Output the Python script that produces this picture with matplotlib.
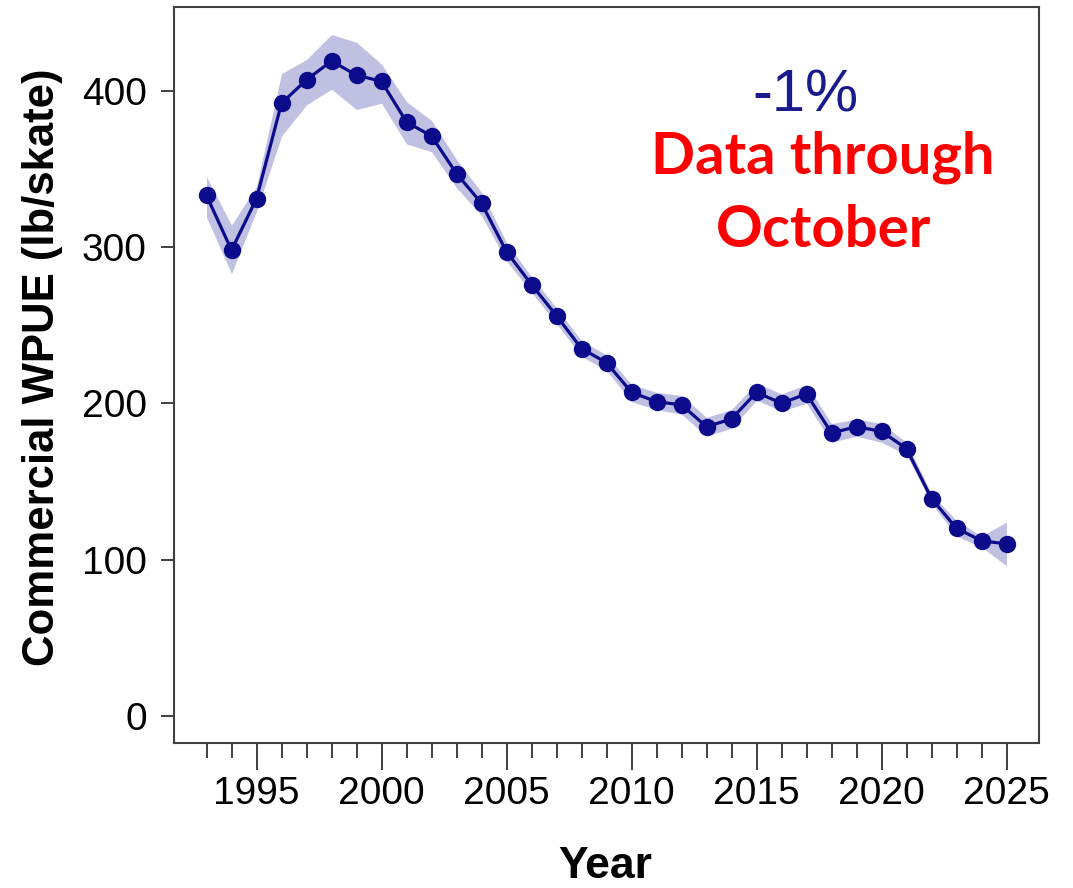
import numpy as np
import matplotlib
matplotlib.use("Agg")
import matplotlib.pyplot as plt
from matplotlib.ticker import FixedLocator

plt.rcParams['font.family'] = ['Liberation Sans', 'DejaVu Sans']

# ---- data ----
years = list(range(1993, 2026))
wpue = [333, 298, 331, 392, 407, 419, 410, 406, 380, 371, 347, 328, 297,
        276, 256, 235, 226, 207, 201, 199, 185, 190, 207, 200, 206, 181,
        185, 182, 171, 139, 120, 112, 110]
lower = [319, 283, 323, 371, 391, 401, 388, 392, 366, 361, 338, 320, 291,
         271, 251, 230, 221, 201, 196, 193, 179, 184, 202, 195, 200, 175,
         179, 175, 167, 136, 115, 108, 96]
upper = [345, 314, 339, 411, 420, 436, 431, 417, 393, 381, 356, 335, 303,
         281, 261, 240, 231, 212, 207, 205, 191, 196, 213, 206, 212, 187,
         190, 187, 175, 142, 125, 115, 124]

y_ticks = [0, 100, 200, 300, 400]
x_ticks = [1995, 2000, 2005, 2010, 2015, 2020, 2025]

line_col = '#0b0b8b'
band_col = '#c0c0e2'
axis_col = '#404040'

W, H = 1073, 888
fig = plt.figure(figsize=(W / 100, H / 100), dpi=100)
ax = fig.add_axes([174 / W, 1 - 743 / H, (1039 - 174) / W, (743 - 7) / H])

ax.fill_between(years, lower, upper, color=band_col, linewidth=0)
ax.plot(years, wpue, color=line_col, linewidth=2.3, marker='o',
        markersize=11.5, markerfacecolor=line_col, markeredgecolor=line_col)

ax.set_xlim(1991.7, 2026.3)
ax.set_ylim(-17.4, 453.6)
ax.set_xticks(x_ticks)
ax.xaxis.set_minor_locator(FixedLocator(years))
ax.set_yticks(y_ticks)

for sp in ax.spines.values():
    sp.set_color(axis_col)
    sp.set_linewidth(1.5)

ax.tick_params(axis='x', which='major', length=19.4, width=1.4, color=axis_col,
               labelsize=28, pad=4.5)
ax.tick_params(axis='x', which='minor', length=10.8, width=1.4, color=axis_col)
ax.tick_params(axis='y', which='major', length=9.5, width=1.4, color=axis_col,
               labelsize=28, pad=10)

# axis titles placed where the reference has them
fig.text(605 / W, 1 - 878 / H, 'Year', fontsize=32, fontweight='bold',
         ha='center', va='baseline')
fig.text(43 / W, 1 - 367 / H, 'Commercial WPUE (lb/skate)', fontsize=31.5,
         fontweight='bold', rotation=90, ha='center', va='center')

fig.text(805 / W, 1 - 111.7 / H, '-1%', color='#1a1a8c', fontsize=43,
         ha='center', va='baseline')
fig.text(823 / W, 1 - 173 / H, 'Data through', color='#ff0000',
         fontsize=41.8, fontweight='bold', family=['Lato', 'DejaVu Sans'],
         ha='center', va='baseline')
fig.text(823 / W, 1 - 246.7 / H, 'October', color='#ff0000',
         fontsize=41.8, fontweight='bold', family=['Lato', 'DejaVu Sans'],
         ha='center', va='baseline')

fig.savefig('out.png', dpi=100)
